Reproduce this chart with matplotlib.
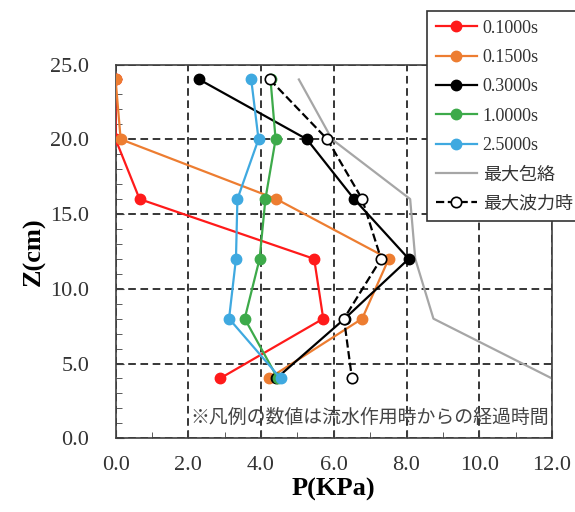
import matplotlib.pyplot as plt
from matplotlib.ticker import MultipleLocator

plt.rcParams['font.family'] = ['Liberation Serif', 'Noto Sans CJK JP']

# depth of the measuring points (cm)
z = [24, 20, 16, 12, 8, 4]

p_010 = [0.00, 0.00, 0.66, 5.46, 5.71, 2.87]
p_015 = [0.00, 0.14, 4.42, 7.51, 6.78, 4.21]
p_030 = [2.30, 5.26, 6.56, 8.06, 6.30, 4.42]
p_100 = [4.26, 4.40, 4.12, 3.96, 3.55, 4.46]
p_250 = [3.73, 3.93, 3.35, 3.31, 3.12, 4.54]
p_env = [5.04, 5.95, 8.10, 8.24, 8.74, 12.0]
p_max = [4.24, 5.82, 6.78, 7.30, 6.28, 6.50]

labels = ['0.1000s', '0.1500s', '0.3000s', '1.0000s', '2.5000s', '最大包絡', '最大波力時']
note = '※凡例の数値は流水作用時からの経過時間'

fig = plt.figure(figsize=(5.75, 5.12), dpi=100)
ax = fig.add_axes([0.201, 0.144, 0.759, 0.730])

series = [(p_010, '#FF1A1A'), (p_015, '#ED7D31'), (p_030, '#000000'),
          (p_100, '#3DAA4A'), (p_250, '#3FA9E0')]
for (p, c), lab in zip(series, labels[:5]):
    ax.plot(p, z, '-o', color=c, lw=1.6, ms=7.5, label=lab, zorder=3)

ax.plot(p_env, z, '-', color='#A6A6A6', lw=1.6, label=labels[5], zorder=2)
ax.plot(p_max, z, '--o', color='black', lw=1.6, ms=7.5, mfc='white',
        mec='black', mew=1.2, label=labels[6], zorder=4)

ax.set_xlim(0, 12)
ax.set_ylim(0, 25)
ax.xaxis.set_major_locator(MultipleLocator(2))
ax.xaxis.set_minor_locator(MultipleLocator(1))
ax.yaxis.set_major_locator(MultipleLocator(5))
ax.yaxis.set_minor_locator(MultipleLocator(1))
ax.xaxis.set_major_formatter(lambda v, pos: f'{v:.1f}')
ax.yaxis.set_major_formatter(lambda v, pos: f'{v:.1f}')
ax.tick_params(which='both', direction='in', color='#404040', labelcolor='#333333',
               labelsize=16)
ax.tick_params(axis='x', which='major', pad=13)
ax.tick_params(axis='y', which='major', pad=19)
ax.tick_params(which='major', length=6)
ax.tick_params(which='minor', length=4)
ax.grid(which='major', color='black', linestyle=(0, (5, 3)), lw=1.1)

for s in ax.spines.values():
    s.set_color('#404040')
    s.set_linewidth(1.2)

ax.set_xlabel('P(KPa)', fontsize=19, fontweight='bold', labelpad=2)
ax.set_ylabel('Z(cm)', fontsize=19, fontweight='bold', labelpad=3)

ax.text(2.05, 1.42, note, fontsize=13.6, color='#444444', va='center',
        family=['Noto Sans CJK JP', 'DejaVu Sans'])

leg = fig.legend(loc='upper left', bbox_to_anchor=(0.742, 0.979), fontsize=13,
                 frameon=True, fancybox=False, edgecolor='#333333',
                 framealpha=1, handlelength=2.3, labelspacing=0.68,
                 borderpad=0.5, handletextpad=0.3, borderaxespad=0)
leg.get_frame().set_linewidth(1.2)
for t in leg.get_texts():
    t.set_color('#333333')

fig.savefig('out.png', dpi=100)
